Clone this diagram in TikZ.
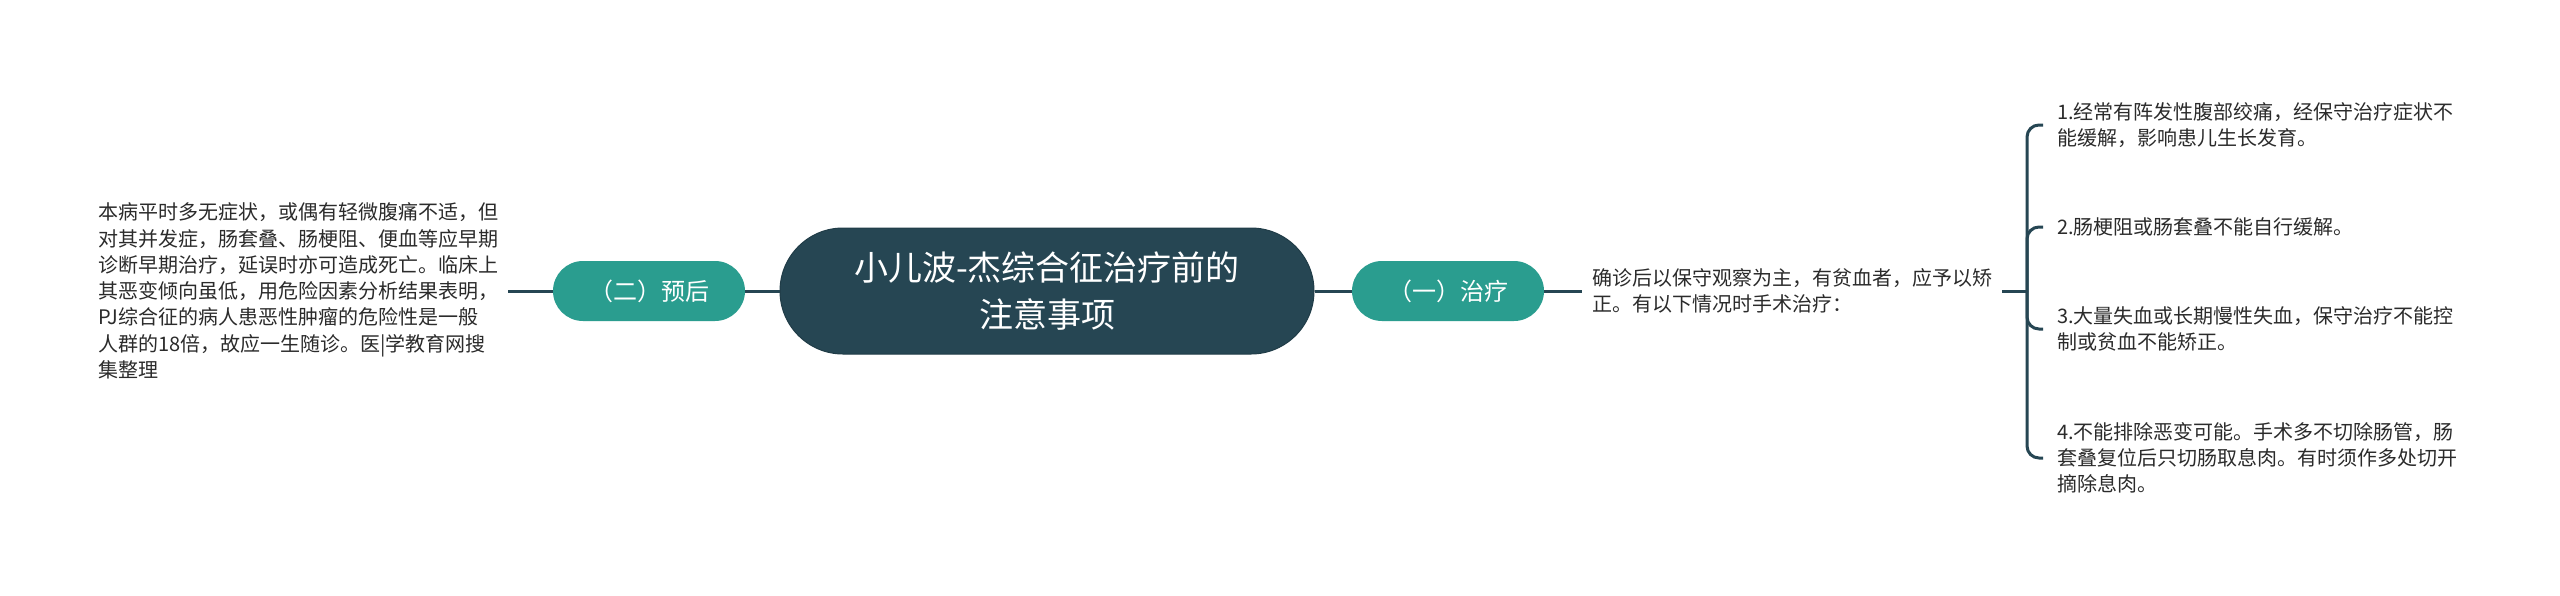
\documentclass[tikz,border=0pt]{standalone}
\usepackage{fontspec}
\setmainfont{Noto Sans CJK SC}
\definecolor{dark}{HTML}{264653}
\definecolor{teal2}{HTML}{2A9D8F}
\definecolor{txt}{HTML}{2B2B2B}
\begin{document}
\begin{tikzpicture}[x=1pt,y=-1pt,
  conn/.style={draw=dark, line width=3pt},
  central/.style={rectangle, rounded corners=63pt, fill=dark, draw=dark!85!black, line width=1pt, minimum width=534pt, minimum height=126pt, text=white, font=\fontsize{34}{47}\selectfont, align=center, inner sep=0pt},
  topic/.style={rectangle, rounded corners=30pt, fill=teal2, minimum width=192pt, minimum height=60pt, text=white, font=\fontsize{24}{30}\selectfont, inner sep=0pt},
  body/.style={text=txt, font=\fontsize{20}{26.3}\selectfont, align=left, inner xsep=10pt, inner ysep=0pt},
  item/.style={body, inner xsep=14pt, anchor=west},
]
\useasboundingbox (0,0) rectangle (2560,595);
\fill[white] (0,0) rectangle (2560,595);
\node[central] (c) at (1047,291) {小儿波-杰综合征治疗前的\\注意事项};
\node[topic] (l) at (649,291) {（二）预后};
\node[topic] (r) at (1448,291) {（一）治疗};
\node[body, anchor=west] (lt) at (88,291) {本病平时多无症状，或偶有轻微腹痛不适，但\\对其并发症，肠套叠、肠梗阻、便血等应早期\\诊断早期治疗，延误时亦可造成死亡。临床上\\其恶变倾向虽低，用危险因素分析结果表明，\\PJ综合征的病人患恶性肿瘤的危险性是一般\\人群的18倍，故应一生随诊。医|学教育网搜\\集整理};
\node[body, anchor=west] (rt) at (1582,291) {确诊后以保守观察为主，有贫血者，应予以矫\\正。有以下情况时手术治疗：};
\coordinate (br) at (2027,291);
\node[item] (i1) at (2043,125) {1.经常有阵发性腹部绞痛，经保守治疗症状不\\能缓解，影响患儿生长发育。};
\node[item] (i2) at (2043,227) {2.肠梗阻或肠套叠不能自行缓解。};
\node[item] (i3) at (2043,329) {3.大量失血或长期慢性失血，保守治疗不能控\\制或贫血不能矫正。};
\node[item] (i4) at (2043,458) {4.不能排除恶变可能。手术多不切除肠管，肠\\套叠复位后只切肠取息肉。有时须作多处切开\\摘除息肉。};
\draw[conn] (c.west) -- (l.east);
\draw[conn] (l.west) -- (lt.east);
\draw[conn] (c.east) -- (r.west);
\draw[conn] (r.east) -- (rt.west);
\draw[conn] (rt.east) -- (br);
\foreach \i in {i1,i2,i3,i4} \draw[conn, rounded corners=12pt] (br) |- (\i.west);
\end{tikzpicture}
\end{document}
